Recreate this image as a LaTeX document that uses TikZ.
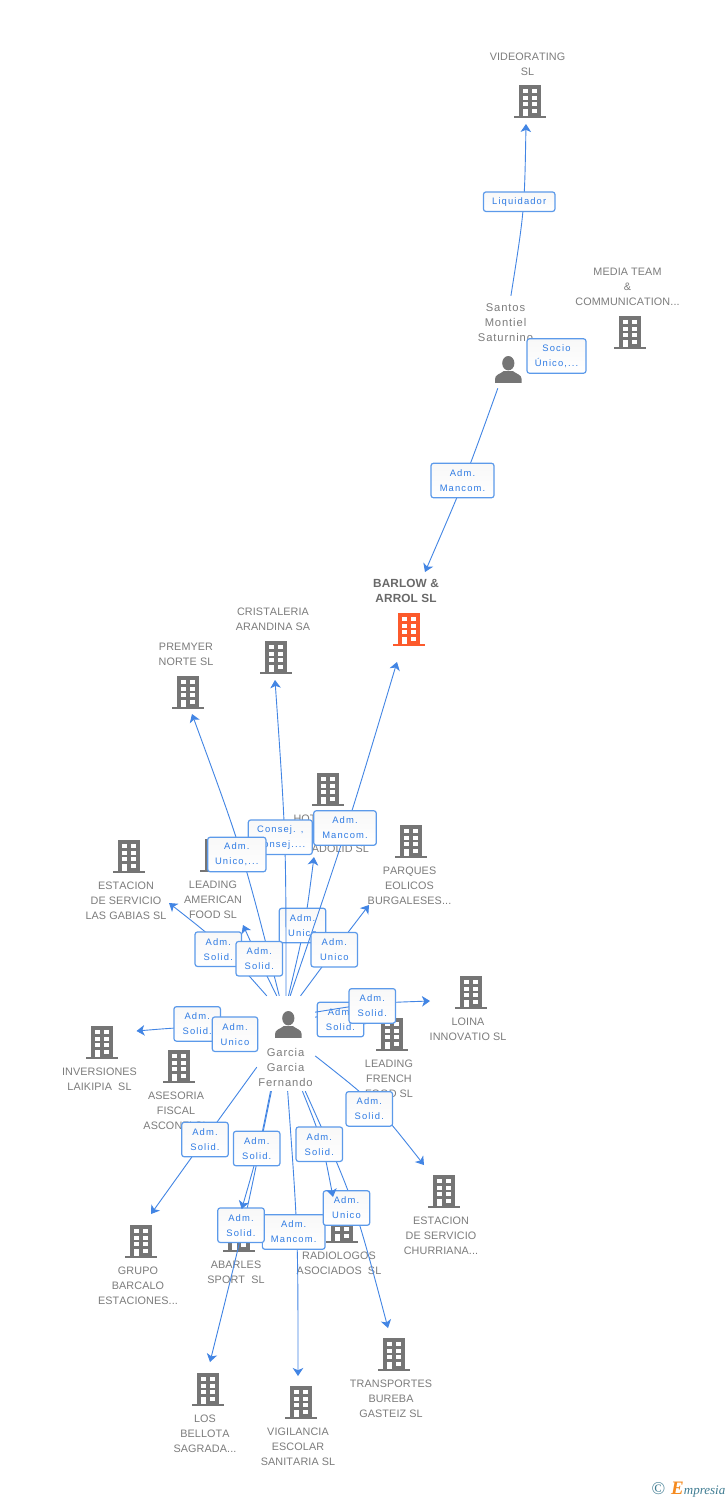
\documentclass[tikz,border=0pt]{standalone}
\usepackage{fontspec}
\usetikzlibrary{arrows.meta}
\setmainfont{Liberation Sans}
\newfontfamily\lblfont[Kerning=Off,LetterSpace=1]{Liberation Sans}
\newfontfamily\perfont[Kerning=Off,LetterSpace=8]{Liberation Sans}
\newfontfamily\boxfont[Kerning=Off,LetterSpace=12]{Liberation Sans}
\newfontfamily\logofont{Liberation Serif}
\definecolor{icongray}{HTML}{757575}
\definecolor{txtgray}{HTML}{7C7C7C}
\definecolor{linkblue}{HTML}{4285E4}
\definecolor{boxedge}{HTML}{5C9AEA}
\definecolor{boxtxt}{HTML}{2F7BE3}
\definecolor{boxtop}{HTML}{F8F8F8}
\definecolor{orangeb}{HTML}{FC5A2C}
\definecolor{logoblue}{HTML}{3F7C92}
\definecolor{logoorange}{HTML}{F58A1F}
\tikzset{
  x=1pt,y=-1pt,
  lbl/.style={align=center,inner sep=0pt,yshift=-0.7pt,text=txtgray,font=\lblfont\fontsize{10.8}{15}\selectfont},
  lblmain/.style={align=center,inner sep=0pt,yshift=-0.5pt,text=txtgray!85!black,font=\lblfont\bfseries\fontsize{11.8}{15}\selectfont},
  perlbl/.style={align=center,inner sep=0pt,yshift=-0.5pt,text=txtgray,font=\perfont\fontsize{11.2}{15}\selectfont},
  conn/.style={draw=linkblue,line width=0.9pt,-{Stealth[length=8pt,width=10.5pt,inset=2.2pt]}},
  rbox/.style={draw=boxedge,line width=1.2pt,rounded corners=2.5pt,inner sep=0pt,
    top color=boxtop,bottom color=white,
    align=center,text=boxtxt,minimum width=46.5pt,minimum height=34.5pt,
    font=\boxfont\fontsize{9.4}{15}\selectfont},
  pics/bld/.style={code={
    \fill[#1] (-11,-16) rectangle (11,15);
    \fill[#1] (-16,14.6) rectangle (16,17.3);
    \foreach \yy in {-11.7,-5.2,1.3}{
      \fill[white] (-7.3,\yy) rectangle (-2.5,\yy+4.1);
      \fill[white] (2.3,\yy) rectangle (7.1,\yy+4.1);
    }
    \fill[white] (-7.3,7.7) rectangle (-2.5,15);
    \fill[white] (2.3,7.7) rectangle (7.1,12.2);
  }},
  pics/pers/.style={code={
    \fill[icongray] (0,-6.3) ellipse [x radius=6.1,y radius=7.2];
    \fill[icongray] (-13.3,13.3) -- (-13.3,9.5) .. controls (-13.3,5) and (-8,4.5) .. (-4.5,1.5)
      -- (4.5,1.5) .. controls (8,4.5) and (13.3,5) .. (13.3,9.5) -- (13.3,13.3) -- cycle;
  }},
  icon/.style={inner sep=0pt,minimum width=32pt,minimum height=33pt},
}
\newcommand{\ent}[5][icongray]{%
  \node[icon] (#2) at (#3) {};
  \pic at (#2) {bld=#1};
  \node[lbl] (#2lab) at (#4) {#5};
}
\begin{document}
\begin{tikzpicture}
\useasboundingbox (0,0) rectangle (728,1500);
\fill[white] (0,0) rectangle (728,1500);

% companies
\ent{videorating}{530,101}{527.5,63.5}{VIDEORATING\\SL}
\ent{mediateam}{630,332}{627.5,286}{MEDIA TEAM\\\&\\COMMUNICATION...}
\node[icon] (barlow) at (409,629) {};
\pic at (barlow) {bld=orangeb};
\node[lblmain] (barlowlab) at (406,590) {BARLOW \&\\ARROL SL};
\ent{cristaleria}{276,657}{273,618.5}{CRISTALERIA\\ARANDINA SA}
\ent{premyer}{188,692}{186,653.5}{PREMYER\\NORTE SL}
\ent{hotel}{328,789}{327,833}{HOTEL\phantom{ PLAZ}\\\mbox{}\\VALLADOLID SL}
\ent{american}{216,855}{213,899}{LEADING\\AMERICAN\\FOOD SL}
\ent{gabias}{129,856}{126,900}{ESTACION\\DE SERVICIO\\LAS GABIAS SL}
\ent{parques}{411,841}{409.5,885}{PARQUES\\EOLICOS\\BURGALESES...}
\ent{loina}{471,992}{468,1028.5}{LOINA\\INNOVATIO SL}
\ent{laikipia}{102,1042}{99.5,1078.5}{INVERSIONES\\LAIKIPIA\ \ SL}
\ent{asesoria}{179,1066}{176,1110}{ASESORIA\\FISCAL\\ASCONFI SL}
\ent{french}{392,1034}{389,1078}{LEADING\\FRENCH\\FOOD SL}
\ent{churriana}{444,1191}{441,1235}{ESTACION\\DE SERVICIO\\CHURRIANA...}
\ent{grupo}{141,1241}{138,1285}{GRUPO\\BARCALO\\ESTACIONES...}
\ent{abarles}{239,1235}{236,1271.5}{ABARLES\\SPORT\ \ SL}
\ent{radiologos}{342,1226}{339,1262.5}{RADIOLOGOS\\ASOCIADOS\ \ SL}
\ent{transportes}{394,1354}{391,1398}{TRANSPORTES\\BUREBA\\GASTEIZ SL}
\ent{bellota}{208,1389}{205,1433}{LOS\\BELLOTA\\SAGRADA...}
\ent{vigilancia}{301,1402}{298,1446}{VIGILANCIA\\ESCOLAR\\SANITARIA SL}

% people
\node[inner sep=0pt,minimum width=63pt,minimum height=92pt] (santos) at (508.5,342) {};
\pic at (508.3,369.5) {pers};
\node[perlbl] (santoslab) at (505.5,322) {Santos\\Montiel\\Saturnino};
\node[inner sep=0pt,minimum width=58pt,minimum height=95pt] (garcia) at (286,1043.5) {};
\pic at (288.3,1024.5) {pers};
\node[perlbl] (garcialab) at (285.5,1067) {Garcia\\Garcia\\Fernando};

% tips of the connectors
\coordinate (tvideo) at (526,124);
\coordinate (tbarlowa) at (425,572);
\coordinate (thotel) at (314,857);
\coordinate (tgabias) at (169,903);
\coordinate (tcrist) at (275,680);
\coordinate (tbarlowb) at (397,662);
\coordinate (tpremyer) at (192,714);
\coordinate (tamer) at (243,925);
\coordinate (tparques) at (369,905);
\coordinate (tlaik) at (136.5,1031);
\coordinate (tases) at (236,1040);
\coordinate (tfrench) at (366,1024);
\coordinate (tloina) at (430,1001);
\coordinate (tchurr) at (424,1165);
\coordinate (tgrupo) at (151,1214);
\coordinate (tvigi) at (298,1376);
\coordinate (tbello) at (210,1362);
\coordinate (tabar) at (241.7,1209);
\coordinate (ttrans) at (388,1328);
\coordinate (tradio) at (333,1197);

% Santos
\draw[conn] (santos.87) .. controls (524.5,210) .. (tvideo);
\node[rbox,minimum width=71.5pt,minimum height=19.5pt] (bliq) at (519.2,201.7) {Liquidador};
\node[rbox,minimum width=59pt,minimum height=34.5pt] (bsocio) at (556.5,356) {Socio\\Único,...};
\draw[conn] (santos.257) .. controls (464.8,480) .. (tbarlowa);
\node[rbox,minimum width=63pt] (bmanca) at (462.5,480.5) {Adm.\\Mancom.};

% Garcia, upper fan
\draw[conn] (garcia.87.6) .. controls (305,926) .. (thotel);
\node[rbox] (bhotel) at (302.5,925.5) {Adm.\\Unico};
\draw[conn] (garcia.112.8) .. controls (220,943) .. (tgabias);
\node[rbox] (bgabias) at (218.3,949.2) {Adm.\\Solid.};
\draw[conn] (garcia.90) .. controls (286,838) .. (tcrist);
\draw[conn] (garcia.85.2) .. controls (347,829) .. (tbarlowb);
\draw[conn] (garcia.98.4) .. controls (243,853) .. (tpremyer);
\node[rbox,minimum width=64pt] (bconsej) at (280.3,837.2) {Consej. ,\\Consej....};
\node[rbox,minimum width=58.3pt] (bpremyer) at (236.8,854.5) {Adm.\\Unico,...};
\node[rbox,minimum width=62.6pt] (bmancb) at (345,828) {Adm.\\Mancom.};
\draw[conn] (garcia.101.9) .. controls (259,960) .. (tamer);
\node[rbox] (bamer) at (259.3,958.7) {Adm.\\Solid.};
\draw[conn] (garcia.73.6) .. controls (334.5,950) .. (tparques);
\node[rbox] (bparques) at (334.3,949.7) {Adm.\\Unico};

% Garcia, sides
\draw[conn] (garcia.165.5) .. controls (197,1026) .. (tlaik);
\node[rbox] (blaik) at (197.2,1023.9) {Adm.\\Solid.};
\draw[conn] (garcia.188.8) .. controls (245,1046) .. (tases);
\node[rbox,minimum width=45.4pt] (bases) at (235,1034.2) {Adm.\\Unico};
\draw[conn] (garcia.42.4) .. controls (340,1012) .. (tfrench);
\node[rbox] (bfrench) at (340.5,1019.5) {Adm.\\Solid.};
\draw[conn] (garcia.47.4) .. controls (372,1003) .. (tloina);
\node[rbox] (bloina) at (372.3,1005.9) {Adm.\\Solid.};
\draw[conn] (garcia.-23.3) .. controls (375,1103) .. (tchurr);
\node[rbox] (bchurr) at (369.3,1108.9) {Adm.\\Solid.};
\draw[conn] (garcia.219) .. controls (204,1140) .. (tgrupo);
\node[rbox] (bgrupo) at (205,1139.5) {Adm.\\Solid.};

% Garcia, lower fan
\draw[conn] (garcia.272.4) .. controls (298,1233) .. (tvigi);
\node[rbox,minimum width=62.7pt] (bvigi) at (293.7,1232) {Adm.\\Mancom.};
\draw[conn] (garcia.253) .. controls (244,1226) .. (tbello);
\node[rbox] (bbello) at (241,1225.2) {Adm.\\Solid.};
\draw[conn] (garcia.252.5) .. controls (259,1149) .. (tabar);
\node[rbox] (babar) at (256.7,1148.5) {Adm.\\Solid.};
\draw[conn] (garcia.292.8) .. controls (354,1200) .. (ttrans);
\node[rbox] (btrans) at (346.5,1208) {Adm.\\Unico};
\draw[conn] (garcia.289.7) .. controls (322,1140) .. (tradio);
\node[rbox] (bradio) at (319.3,1144.2) {Adm.\\Solid.};

% logo
\node[inner sep=0pt,text=logoblue,font=\logofont\fontsize{18}{18}\selectfont] (logoc) at (658.5,1489) {©};
\node[inner sep=0pt,anchor=west,font=\logofont\itshape\fontsize{13}{15}\selectfont,text=logoblue] (logot) at (671,1489.5)
  {\textcolor{logoorange}{\bfseries\fontsize{19}{15}\selectfont E}mpresia};
\end{tikzpicture}
\end{document}
